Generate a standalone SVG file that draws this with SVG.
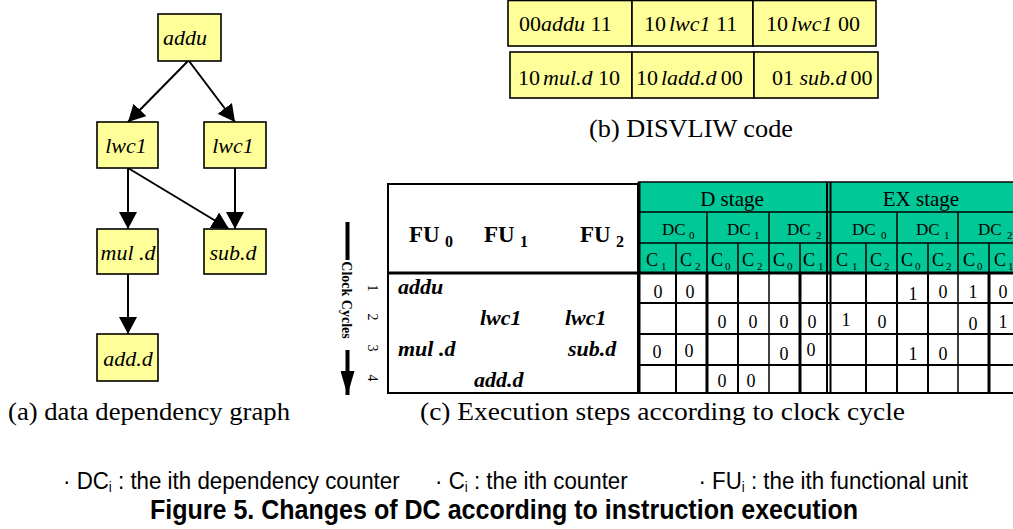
<svg xmlns="http://www.w3.org/2000/svg" width="1013" height="529" viewBox="0 0 1013 529">
<defs>
<style>
.node{fill:#FFFF99;stroke:#000;stroke-width:1.6}
.nt{font-family:"Liberation Serif","Times New Roman",serif;font-style:italic;font-size:22px;text-anchor:middle}
.ct{font-family:"Liberation Serif","Times New Roman",serif;font-size:22px}
.it{font-style:italic}
.lab{font-family:"Liberation Serif","Times New Roman",serif;font-size:25px}
.edge{stroke:#000;stroke-width:2;fill:none}
.hdr{fill:#00C896}
.ln{stroke:#000;stroke-width:2}
.tn{stroke:#000;stroke-width:1.5}
.th{stroke:#000;stroke-width:3}
.ht{font-family:"Liberation Serif","Times New Roman",serif;font-size:21px;text-anchor:middle}
.dc{font-family:"Liberation Serif","Times New Roman",serif;font-size:17px}
.cc{font-family:"Liberation Serif","Times New Roman",serif;font-size:18px}
.sb{font-size:11px}
.lsb{font-size:14px}
.dg{font-family:"Liberation Serif","Times New Roman",serif;font-size:18px;text-anchor:middle}
.fu{font-family:"Liberation Serif","Times New Roman",serif;font-size:23px;font-weight:bold}
.ins{font-family:"Liberation Serif","Times New Roman",serif;font-size:22px;font-weight:bold;font-style:italic}
.rot{font-family:"Liberation Serif","Times New Roman",serif;font-size:14px;text-anchor:middle}
.leg{font-family:"Liberation Sans",Arial,sans-serif;font-size:23.5px}
.ttl{font-family:"Liberation Sans",Arial,sans-serif;font-size:27px;font-weight:bold;text-anchor:middle}
</style>
<marker id="ah" markerUnits="userSpaceOnUse" markerWidth="18" markerHeight="18" refX="17" refY="9" orient="auto">
<path d="M0,0 L17,9 L0,18 Z" fill="#000"/>
</marker>
<marker id="ah2" markerUnits="userSpaceOnUse" markerWidth="26" markerHeight="14" refX="24" refY="7" orient="auto">
<path d="M0,0 L24,7 L0,14 Z" fill="#000"/>
</marker>
</defs>
<rect width="1013" height="529" fill="#fff"/>

<!-- (a) data dependency graph -->
<g id="connectors">
<line class="edge" x1="188" y1="61" x2="128" y2="122" marker-end="url(#ah)"/>
<line class="edge" x1="189" y1="61" x2="235" y2="122" marker-end="url(#ah)"/>
<line class="edge" x1="128" y1="168" x2="128" y2="229" marker-end="url(#ah)"/>
<line class="edge" x1="128" y1="168" x2="229" y2="229" marker-end="url(#ah)"/>
<line class="edge" x1="235" y1="168" x2="235" y2="229" marker-end="url(#ah)"/>
<line class="edge" x1="128" y1="274" x2="128" y2="334" marker-end="url(#ah)"/>
</g>
<g id="n-addu"><rect class="node" x="158" y="14" width="63" height="47"/><text class="nt" x="185" y="45">addu</text></g>
<g id="n-lwc1a"><rect class="node" x="97" y="122" width="61" height="46"/><text class="nt" x="126" y="153">lwc1</text></g>
<g id="n-lwc1b"><rect class="node" x="204" y="122" width="62" height="46"/><text class="nt" x="233" y="153">lwc1</text></g>
<g id="n-muld"><rect class="node" x="97" y="229" width="61" height="45"/><text class="nt" x="128" y="260">mul .d</text></g>
<g id="n-subd"><rect class="node" x="204" y="229" width="62" height="45"/><text class="nt" x="233" y="260">sub.d</text></g>
<g id="n-addd"><rect class="node" x="97" y="334" width="61" height="47"/><text class="nt" x="128" y="366">add.d</text></g>
<text class="lab" x="8" y="420" textLength="282" lengthAdjust="spacingAndGlyphs">(a) data dependency graph</text>

<!-- (b) DISVLIW code -->
<g id="code">
<rect class="node" x="508" y="0.5" width="124" height="45.5"/>
<rect class="node" x="632" y="0.5" width="121" height="45.5"/>
<rect class="node" x="753" y="0.5" width="123" height="45.5"/>
<rect class="node" x="510" y="52" width="122" height="46"/>
<rect class="node" x="632" y="52" width="122" height="46"/>
<rect class="node" x="754" y="52" width="124" height="46"/>
<text class="ct" x="519" y="31">00<tspan class="it">addu</tspan> 11</text>
<text class="ct" x="644" y="31">10<tspan class="it" dx="3">lwc1</tspan> 11</text>
<text class="ct" x="766" y="31">10<tspan class="it" dx="3">lwc1</tspan> 00</text>
<text class="ct" x="518" y="85">10<tspan class="it" dx="3">mul.d</tspan> 10</text>
<text class="ct" x="636" y="85">10<tspan class="it" dx="3">ladd.d</tspan><tspan dx="4">00</tspan></text>
<text class="ct" x="772" y="85">01 <tspan class="it">sub.d</tspan><tspan dx="4">00</tspan></text>
</g>
<text class="lab" x="589" y="137" textLength="204" lengthAdjust="spacingAndGlyphs">(b) DISVLIW code</text>

<!-- (c) table -->
<g id="table">
<rect class="hdr" x="638" y="182" width="382" height="91"/>
<rect x="388" y="184" width="250" height="209" fill="none" stroke="#000" stroke-width="2"/>
<line class="tn" x1="638" y1="182" x2="1020" y2="182"/>
<line class="tn" x1="638" y1="212" x2="1020" y2="212"/>
<line class="tn" x1="638" y1="243" x2="1020" y2="243"/>
<line class="th" x1="388" y1="273" x2="1020" y2="273"/>
<line class="ln" x1="638" y1="303" x2="1020" y2="303"/>
<line class="ln" x1="638" y1="334" x2="1020" y2="334"/>
<line class="ln" x1="638" y1="365" x2="1020" y2="365"/>
<line class="ln" x1="638" y1="393" x2="1020" y2="393"/>
<line class="th" x1="639" y1="182" x2="639" y2="393"/>
<line class="ln" x1="827" y1="182" x2="827" y2="393"/>
<line class="ln" x1="830.5" y1="182" x2="830.5" y2="393"/>
<line class="tn" x1="707" y1="212" x2="707" y2="273"/>
<line class="tn" x1="769" y1="212" x2="769" y2="273"/>
<line class="tn" x1="897" y1="212" x2="897" y2="273"/>
<line class="tn" x1="958" y1="212" x2="958" y2="273"/>
<line class="tn" x1="676" y1="243" x2="676" y2="273"/>
<line class="tn" x1="738" y1="243" x2="738" y2="273"/>
<line class="tn" x1="800" y1="243" x2="800" y2="273"/>
<line class="tn" x1="866" y1="243" x2="866" y2="273"/>
<line class="tn" x1="928" y1="243" x2="928" y2="273"/>
<line class="tn" x1="989" y1="243" x2="989" y2="273"/>
<line class="ln" x1="676" y1="273" x2="676" y2="393"/>
<line class="th" x1="707" y1="273" x2="707" y2="393"/>
<line class="ln" x1="738" y1="273" x2="738" y2="393"/>
<line class="tn" x1="769" y1="273" x2="769" y2="393"/>
<line class="th" x1="800" y1="273" x2="800" y2="393"/>
<line class="ln" x1="866" y1="273" x2="866" y2="393"/>
<line class="ln" x1="897" y1="273" x2="897" y2="393"/>
<line class="ln" x1="928" y1="273" x2="928" y2="393"/>
<line class="tn" x1="958" y1="273" x2="958" y2="393"/>
<line class="th" x1="989" y1="273" x2="989" y2="393"/>

<text class="ht" x="732" y="206">D stage</text>
<text class="ht" x="921" y="206">EX stage</text>

<text class="dc" y="235"><tspan x="662">DC</tspan><tspan class="sb" x="689" dy="4">0</tspan></text>
<text class="dc" y="235"><tspan x="727">DC</tspan><tspan class="sb" x="754" dy="4">1</tspan></text>
<text class="dc" y="235"><tspan x="787">DC</tspan><tspan class="sb" x="816" dy="4">2</tspan></text>
<text class="dc" y="235"><tspan x="852">DC</tspan><tspan class="sb" x="881" dy="4">0</tspan></text>
<text class="dc" y="235"><tspan x="916">DC</tspan><tspan class="sb" x="944" dy="4">1</tspan></text>
<text class="dc" y="235"><tspan x="978">DC</tspan><tspan class="sb" x="1007" dy="4">2</tspan></text>

<text class="cc" y="266"><tspan x="646">C</tspan><tspan class="sb" x="661" dy="4">1</tspan></text>
<text class="cc" y="266"><tspan x="680">C</tspan><tspan class="sb" x="695" dy="4">2</tspan></text>
<text class="cc" y="266"><tspan x="711">C</tspan><tspan class="sb" x="725" dy="4">0</tspan></text>
<text class="cc" y="266"><tspan x="742">C</tspan><tspan class="sb" x="757" dy="4">2</tspan></text>
<text class="cc" y="266"><tspan x="773">C</tspan><tspan class="sb" x="787" dy="4">0</tspan></text>
<text class="cc" y="266"><tspan x="803">C</tspan><tspan class="sb" x="818" dy="4">1</tspan></text>
<text class="cc" y="266"><tspan x="836">C</tspan><tspan class="sb" x="852" dy="4">1</tspan></text>
<text class="cc" y="266"><tspan x="870">C</tspan><tspan class="sb" x="884" dy="4">2</tspan></text>
<text class="cc" y="266"><tspan x="901">C</tspan><tspan class="sb" x="915" dy="4">0</tspan></text>
<text class="cc" y="266"><tspan x="932">C</tspan><tspan class="sb" x="946" dy="4">2</tspan></text>
<text class="cc" y="266"><tspan x="963">C</tspan><tspan class="sb" x="977" dy="4">0</tspan></text>
<text class="cc" y="266"><tspan x="994">C</tspan><tspan class="sb" x="1008" dy="4">1</tspan></text>

<text class="dg" x="658" y="298">0</text>
<text class="dg" x="690" y="298">0</text>
<text class="dg" x="913" y="300">1</text>
<text class="dg" x="943" y="298">0</text>
<text class="dg" x="973" y="298">1</text>
<text class="dg" x="1003" y="298">0</text>

<text class="dg" x="722" y="328">0</text>
<text class="dg" x="753" y="328">0</text>
<text class="dg" x="784" y="328">0</text>
<text class="dg" x="812" y="328">0</text>
<text class="dg" x="846" y="326">1</text>
<text class="dg" x="882" y="328">0</text>
<text class="dg" x="973" y="330">0</text>
<text class="dg" x="1003" y="328">1</text>

<text class="dg" x="657" y="358">0</text>
<text class="dg" x="689" y="357">0</text>
<text class="dg" x="784" y="360">0</text>
<text class="dg" x="811" y="356">0</text>
<text class="dg" x="913" y="360">1</text>
<text class="dg" x="943" y="360">0</text>

<text class="dg" x="722" y="387">0</text>
<text class="dg" x="751" y="387">0</text>

<text class="fu" x="409" y="242">FU<tspan font-size="16" x="445" dy="5">0</tspan></text>
<text class="fu" x="484" y="242">FU<tspan font-size="16" x="520" dy="5">1</tspan></text>
<text class="fu" x="580" y="242">FU<tspan font-size="16" x="616" dy="5">2</tspan></text>

<text class="ins" x="398" y="294">addu</text>
<text class="ins" x="480" y="325">lwc1</text>
<text class="ins" x="565" y="325">lwc1</text>
<text class="ins" x="398" y="356">mul .d</text>
<text class="ins" x="568" y="356">sub.d</text>
<text class="ins" x="474" y="387">add.d</text>
</g>

<g id="clock">
<line x1="347.5" y1="222" x2="347.5" y2="260" stroke="#000" stroke-width="4"/>
<line x1="347.5" y1="350" x2="347.5" y2="395" stroke="#000" stroke-width="4" marker-end="url(#ah2)"/>
<text class="rot" font-weight="bold" font-size="13.5" transform="translate(347,300) rotate(90)" y="5">Clock Cycles</text>
<text class="rot" transform="translate(373,288) rotate(90)" y="5">1</text>
<text class="rot" transform="translate(373,317) rotate(90)" y="5">2</text>
<text class="rot" transform="translate(373,348) rotate(90)" y="5">3</text>
<text class="rot" transform="translate(373,378) rotate(90)" y="5">4</text>
</g>
<text class="lab" x="420" y="420" textLength="485" lengthAdjust="spacingAndGlyphs">(c) Execution steps according to clock cycle</text>

<!-- legend -->
<g transform="translate(63,489) scale(0.95,1)"><text class="leg" x="0" y="0">· DC<tspan class="lsb" dy="3">i</tspan><tspan dy="-3"> : the ith dependency counter</tspan></text></g>
<g transform="translate(435,489) scale(0.95,1)"><text class="leg" x="0" y="0">· C<tspan class="lsb" dy="3">i</tspan><tspan dy="-3"> : the ith counter</tspan></text></g>
<g transform="translate(968,489) scale(0.95,1)"><text class="leg" x="0" y="0" text-anchor="end">· FU<tspan class="lsb" dy="3">i</tspan><tspan dy="-3"> :  the ith functional unit</tspan></text></g>
<g transform="translate(504,519) scale(0.928,1)"><text class="ttl" x="0" y="0">Figure 5. Changes of DC according to instruction execution</text></g>
</svg>
